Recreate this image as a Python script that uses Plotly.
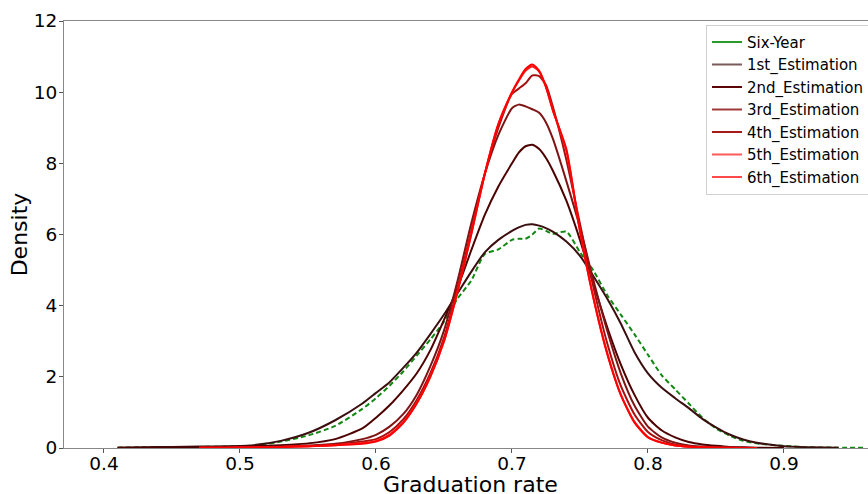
import plotly.graph_objects as go

x_grid = [0.41, 0.43, 0.45, 0.47, 0.49, 0.51, 0.53, 0.55, 0.57, 0.59, 0.60, 0.61, 0.62, 0.63,
          0.64, 0.65, 0.66, 0.67, 0.68, 0.69, 0.70, 0.705, 0.71, 0.715, 0.72, 0.725, 0.73,
          0.74, 0.75, 0.76, 0.77, 0.78, 0.79, 0.80, 0.81, 0.82, 0.83, 0.84, 0.85, 0.86,
          0.87, 0.88, 0.90, 0.92, 0.94, 0.96]

six_year = [0.01, 0.02, 0.02, 0.03, 0.04, 0.07, 0.18, 0.35, 0.62, 1.1, 1.4, 1.75, 2.15, 2.6,
            3.05, 3.55, 4.2, 4.7, 5.45, 5.58, 5.85, 5.88, 5.88, 6.0, 6.17, 6.1, 6.02,
            6.08, 5.5, 4.98, 4.3, 3.75, 3.2, 2.62, 2.05, 1.65, 1.25, 0.85, 0.55, 0.35,
            0.2, 0.13, 0.06, 0.02, 0.01, 0.005]

est_1 = [0.01, 0.02, 0.03, 0.04, 0.05, 0.08, 0.2, 0.42, 0.78, 1.25, 1.55, 1.85, 2.25, 2.68,
         3.2, 3.75, 4.35, 4.95, 5.5, 5.85, 6.1, 6.2, 6.27, 6.29, 6.25, 6.18, 6.08,
         5.8, 5.4, 4.82, 4.2, 3.5, 2.7, 2.1, 1.7, 1.4, 1.12, 0.82, 0.58, 0.38,
         0.24, 0.15, 0.05, 0.02, 0.005, None]

est_2 = [0.005, 0.01, 0.01, 0.02, 0.03, 0.05, 0.08, 0.13, 0.25, 0.55, 0.85, 1.2, 1.62, 2.1,
         2.75, 3.6, 4.5, 5.55, 6.55, 7.35, 8.0, 8.3, 8.48, 8.52, 8.4, 8.15, 7.8,
         6.95, 5.85, 4.6, 3.4, 2.35, 1.5, 0.85, 0.5, 0.3, 0.17, 0.1, 0.06, 0.03,
         0.02, 0.01, 0.003, None, None, None]

est_3 = [None, None, None, 0.005, 0.01, 0.02, 0.04, 0.07, 0.12, 0.25, 0.37, 0.6, 0.95, 1.5,
         2.3, 3.3, 4.7, 6.3, 7.7, 8.8, 9.55, 9.65, 9.6, 9.52, 9.42, 9.15, 8.7,
         7.5, 6.2, 4.7, 3.3, 2.1, 1.2, 0.6, 0.3, 0.15, 0.07, 0.04, 0.02, 0.01,
         0.005, 0.002, None, None, None, None]

est_4 = [None, None, None, 0.005, 0.01, 0.015, 0.03, 0.05, 0.09, 0.18, 0.25, 0.45, 0.8, 1.35,
         2.1, 3.1, 4.5, 6.1, 7.7, 9.0, 9.95, 10.1, 10.25, 10.47, 10.45, 10.2, 9.6,
         8.1, 6.3, 4.5, 2.95, 1.75, 0.95, 0.45, 0.22, 0.1, 0.05, 0.025, 0.012, 0.006,
         0.003, 0.001, None, None, None, None]

est_5 = [None, None, None, 0.005, 0.01, 0.015, 0.03, 0.05, 0.08, 0.14, 0.2, 0.38, 0.72, 1.27,
         2.02, 3.0, 4.4, 6.0, 7.7, 9.1, 9.98, 10.32, 10.6, 10.72, 10.58, 10.15, 9.5,
         8.35, 6.1, 4.2, 2.68, 1.5, 0.74, 0.31, 0.15, 0.07, 0.035, 0.02, 0.01, 0.005,
         0.002, 0.001, None, None, None, None]

est_6 = [None, None, None, 0.005, 0.01, 0.015, 0.03, 0.05, 0.08, 0.12, 0.18, 0.35, 0.7, 1.25,
         2.0, 3.0, 4.4, 6.0, 7.7, 9.1, 10.0, 10.35, 10.65, 10.78, 10.6, 10.15, 9.5,
         8.4, 6.1, 4.2, 2.65, 1.5, 0.72, 0.3, 0.15, 0.07, 0.035, 0.02, 0.01, 0.005,
         0.002, 0.001, None, None, None, None]

series_names = ["Six-Year", "1st_Estimation", "2nd_Estimation", "3rd_Estimation",
                "4th_Estimation", "5th_Estimation", "6th_Estimation"]
series_values = [six_year, est_1, est_2, est_3, est_4, est_5, est_6]
series_colors = ["#118811", "#3b0f0f", "#4d0000", "#7f1414", "#a80f0f", "#ff2020", "#ff0000"]
legend_colors = ["#2a9a2a", "#7a5a5a", "#5a0606", "#a03a3a", "#a81a1a", "#ff5a5a", "#ff4a4a"]

x_ticks = [0.4, 0.5, 0.6, 0.7, 0.8, 0.9]
y_ticks = [0, 2, 4, 6, 8, 10, 12]
x_title = "Graduation rate"
y_title = "Density"

fig = go.Figure()
# curves (no legend entries)
for name, vals, col in zip(series_names, series_values, series_colors):
    fig.add_trace(go.Scatter(
        x=x_grid, y=vals, name=name, mode="lines", showlegend=False,
        line=dict(color=col, width=2, shape="spline", smoothing=0.6,
                  dash="5px,3px" if name == "Six-Year" else "solid"),
        connectgaps=False,
    ))
# legend entries (solid swatches, as in the reference)
for name, lcol in zip(series_names, legend_colors):
    fig.add_trace(go.Scatter(
        x=[None], y=[None], name=name, mode="lines",
        line=dict(color=lcol, width=2), showlegend=True,
    ))

font_family = "DejaVu Sans"
fig.update_layout(
    width=868, height=494,
    paper_bgcolor="white", plot_bgcolor="white",
    margin=dict(l=64, r=0, t=21, b=46, autoexpand=False),
    font=dict(family=font_family, color="black"),
    showlegend=True,
    legend=dict(
        x=0.7985, y=0.991, xanchor="left", yanchor="top",
        bgcolor="rgba(255,255,255,0.8)", bordercolor="#d0d0d0", borderwidth=1,
        font=dict(size=15, family=font_family),
        tracegroupgap=0, itemwidth=30,
    ),
    annotations=[dict(
        text=x_title, xref="paper", yref="paper", x=0.505, y=0,
        xanchor="center", yanchor="middle", yshift=-36, showarrow=False,
        borderpad=0,
        font=dict(size=22, family=font_family, color="black"),
    )],
)
fig.update_xaxes(
    range=[0.3706, 0.9618], tickvals=x_ticks, ticktext=[f"{v:.1f}" for v in x_ticks],
    ticks="outside", ticklen=4, tickcolor="#555", showgrid=False, zeroline=False,
    showline=True, linecolor="#888", linewidth=1, mirror=True, ticklabelstandoff=-5,
    tickfont=dict(size=18.5),
)
fig.update_yaxes(
    range=[0, 12], tickvals=y_ticks, ticks="outside", ticklen=4, tickcolor="#555",
    showgrid=False, zeroline=False, showline=True, linecolor="#888", linewidth=1,
    ticklabelstandoff=-2,
    tickfont=dict(size=18.5), title=dict(text=y_title, font=dict(size=22), standoff=0),
)

fig.write_html(
    "out.html",
    config={"displayModeBar": False},
    post_script="document.body.style.margin='0';document.body.style.overflow='hidden';",
)
